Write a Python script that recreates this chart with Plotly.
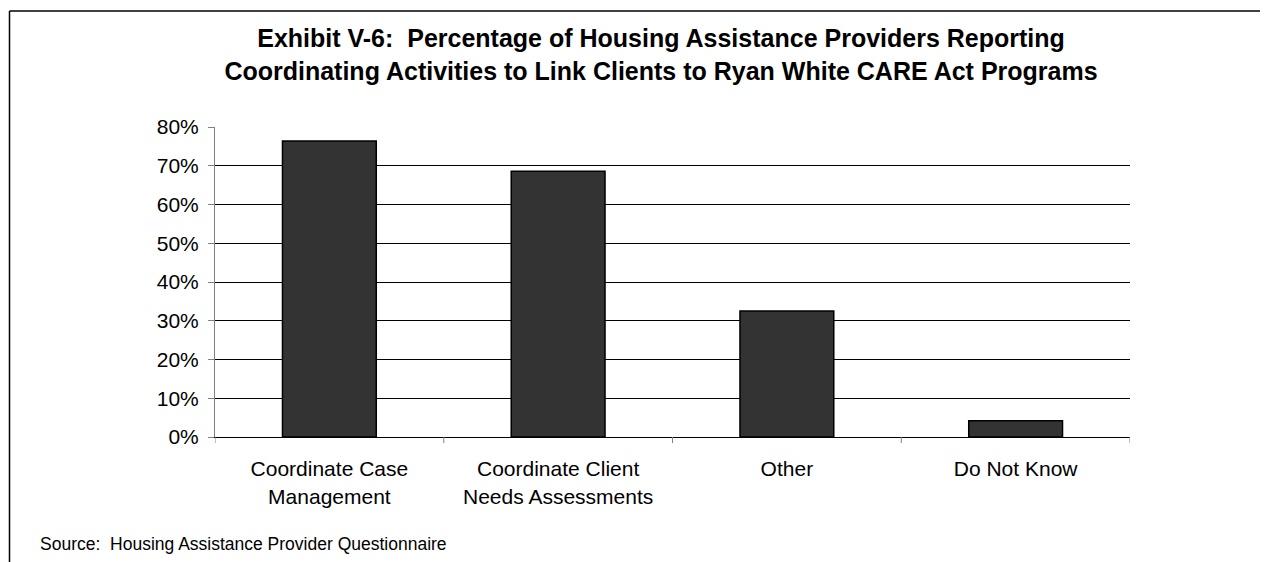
import plotly.graph_objects as go

categories = ["Coordinate Case<br>Management", "Coordinate Client<br>Needs Assessments", "Other", "Do Not Know"]
values = [76.4, 68.6, 32.5, 4.2]
y_ticks = [0, 10, 20, 30, 40, 50, 60, 70, 80]
y_tick_labels = [f"{v}%" for v in y_ticks]

# page has an 8px body margin; figure coordinates are page minus 8
W, H = 1260, 554
L, T = 207, 119
PW, PH = 915, 310
R, B = W - L - PW, H - T - PH

def px(xf):
    return (xf - L) / PW

def py(yf):
    return (H - B - yf) / PH

fig = go.Figure()
fig.add_trace(go.Bar(
    x=list(range(len(categories))), y=values,
    marker=dict(color="#333333", line=dict(color="#000000", width=1.5)),
    width=0.41, hoverinfo="skip"))

fig.update_layout(
    width=W, height=H,
    margin=dict(l=L, r=R, t=T, b=B),
    paper_bgcolor="white", plot_bgcolor="white",
    showlegend=False,
    font=dict(family="Liberation Sans, Arial, sans-serif", size=21, color="black"),
    title=dict(
        text="<b>Exhibit V-6:  Percentage of Housing Assistance Providers Reporting<br>Coordinating Activities to Link Clients to Ryan White CARE Act Programs</b>",
        xref="container", x=653 / W, xanchor="center",
        yref="container", y=1 - 39 / H, yanchor="middle",
        font=dict(family="Liberation Sans, Arial, sans-serif", size=25, color="black")),
    xaxis=dict(
        range=[-0.5, 3.5], tickmode="array",
        tickvals=list(range(len(categories))), ticktext=categories,
        showgrid=False, zeroline=False, showline=True, linecolor="black", linewidth=1,
        ticks="", ticklabelstandoff=13, tickfont=dict(size=21), fixedrange=True),
    yaxis=dict(
        range=[0, 80], tickmode="array", tickvals=y_ticks, ticktext=y_tick_labels,
        showgrid=True, gridcolor="black", gridwidth=1,
        zeroline=False, showline=True, linecolor="#808080", linewidth=1,
        ticks="outside", ticklen=6, tickcolor="#808080", ticklabelstandoff=5,
        tickfont=dict(size=21), fixedrange=True),
)

shapes = []
for b in [-0.5, 0.5, 1.5, 2.5, 3.5]:
    shapes.append(dict(type="line", xref="x", yref="paper", x0=b, x1=b, y0=0, y1=-6 / PH,
                       line=dict(color="#808080", width=1)))
# outer frame lines (left and top)
shapes.append(dict(type="line", xref="paper", yref="paper",
                   x0=px(1.5), x1=px(1.5), y0=py(3), y1=py(H),
                   line=dict(color="black", width=1.5)))
shapes.append(dict(type="line", xref="paper", yref="paper",
                   x0=px(1.5), x1=px(W), y0=py(3), y1=py(3),
                   line=dict(color="black", width=1.5)))
fig.update_layout(shapes=shapes)

fig.add_annotation(
    text="Source:  Housing Assistance Provider Questionnaire",
    xref="paper", yref="paper",
    x=px(30), y=py(536),
    xanchor="left", yanchor="middle", showarrow=False,
    font=dict(family="Liberation Sans, Arial, sans-serif", size=17.5, color="black"))

fig.write_html("out.html")
